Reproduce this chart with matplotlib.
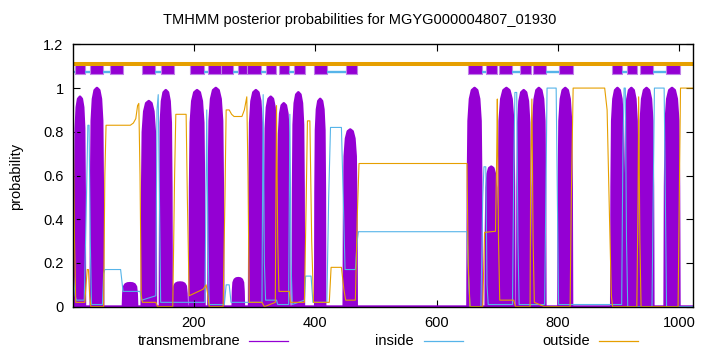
import numpy as np
import matplotlib.pyplot as plt
from matplotlib.lines import Line2D

plt.rcParams['font.family'] = ['Liberation Sans', 'DejaVu Sans']
plt.rcParams['font.size'] = 10.5

### Data ###
seq_len = 1022

# posterior transmembrane peaks: first residue, last residue, max probability
tm_start = [4, 30, 83, 114, 144, 166, 193, 224, 264, 291, 317, 339, 363, 400, 447,
            651, 681, 702, 733, 758, 801, 888, 911, 935, 976]
tm_end = [20, 50, 106, 137, 163, 188, 217, 248, 282, 313, 336, 357, 381, 416, 468,
          674, 699, 728, 754, 779, 823, 908, 931, 957, 1000]
tm_peak = [0.96, 1.0, 0.107, 0.94, 0.99, 0.11, 0.99, 1.0, 0.13, 0.99, 0.96, 0.93, 0.98, 0.95, 0.81,
           1.0, 0.64, 1.0, 0.99, 1.0, 1.0, 1.0, 1.0, 1.0, 1.0]

# posterior probability of "inside"
inside_x = [1, 4, 6, 19, 22, 25, 27, 29, 31, 49, 51, 53, 79, 81, 83, 111, 114, 137, 139, 141, 143, 145,
            218, 220, 221, 223, 225, 250, 253, 258, 261, 312, 314, 316, 318, 336, 338, 356, 358, 360, 362,
            382, 384, 393, 396, 419, 422, 425, 443, 446, 449, 466, 469, 471, 650, 653, 655, 673, 676, 678,
            681, 683, 685, 725, 727, 729, 732, 734, 736, 778, 780, 782, 797, 799, 801, 905, 907, 909, 911,
            913, 915, 955, 957, 959, 975, 977, 979, 1022]
inside_y = [0.15, 0.05, 0.03, 0.03, 0.4, 0.83, 0.83, 0.3, 0.01, 0.01, 0.15, 0.17, 0.17, 0.12, 0.07, 0.07,
            0.03, 0.05, 0.9, 0.97, 0.5, 0.02, 0.02, 0.6, 0.9, 0.3, 0.01, 0.01, 0.1, 0.1, 0.02, 0.02, 0.97,
            0.2, 0.03, 0.03, 0.01, 0.01, 0.88, 0.2, 0.01, 0.03, 0.14, 0.14, 0.02, 0.02, 0.5, 0.82, 0.82,
            0.5, 0.17, 0.17, 0.3, 0.343, 0.343, 0.1, 0.0, 0.0, 0.5, 0.64, 0.64, 0.1, 0.01, 0.01, 0.6,
            0.98, 0.98, 0.3, 0.01, 0.01, 0.5, 1.0, 1.0, 0.5, 0.01, 0.01, 0.7, 1.0, 1.0, 0.3, 0.0, 0.0,
            0.5, 1.0, 1.0, 0.5, 0.0, 0.0]

# posterior probability of "outside"
outside_x = [1, 3, 5, 20, 22, 24, 26, 28, 30, 51, 53, 55, 95, 100, 104, 107, 109, 111, 113, 115, 137, 140,
             165, 168, 170, 187, 189, 192, 215, 220, 223, 225, 248, 251, 253, 258, 262, 266, 279, 283, 287,
             289, 291, 312, 316, 334, 336, 338, 340, 357, 359, 382, 385, 387, 391, 394, 397, 423, 426, 443,
             447, 450, 466, 469, 472, 650, 652, 655, 676, 679, 697, 699, 700, 702, 704, 727, 730, 754, 755,
             757, 759, 761, 778, 820, 822, 825, 877, 881, 885, 888, 890, 930, 932, 933, 935, 937, 998, 1000,
             1002, 1022]
outside_y = [0.8, 0.3, 0.02, 0.02, 0.1, 0.17, 0.17, 0.05, 0.0, 0.0, 0.6, 0.83, 0.83, 0.84, 0.86, 0.92,
             0.93, 0.6, 0.05, 0.02, 0.02, 0.0, 0.0, 0.6, 0.88, 0.88, 0.5, 0.05, 0.08, 0.1, 0.05, 0.0, 0.0,
             0.5, 0.9, 0.9, 0.88, 0.87, 0.87, 0.9, 0.96, 0.6, 0.02, 0.02, 0.0, 0.02, 0.92, 0.3, 0.07, 0.07,
             0.02, 0.02, 0.5, 0.85, 0.85, 0.3, 0.02, 0.02, 0.18, 0.18, 0.08, 0.03, 0.03, 0.4, 0.655, 0.655,
             0.2, 0.0, 0.0, 0.34, 0.345, 0.7, 0.95, 0.3, 0.03, 0.03, 0.0, 0.0, 0.6, 0.95, 0.3, 0.02, 0.0,
             0.0, 0.5, 1.0, 1.0, 0.9, 0.4, 0.05, 0.0, 0.0, 0.5, 0.96, 0.3, 0.0, 0.0, 0.5, 1.0, 1.0]

# predicted topology (top bar)
pred_tm = [(4, 21), (28, 50), (61, 83), (114, 136), (145, 167), (194, 216), (223, 245), (245, 265),
           (272, 288), (288, 310), (318, 335), (340, 357), (365, 383), (398, 419), (450, 469),
           (652, 674), (681, 699), (703, 725), (737, 755), (759, 780), (802, 824), (889, 906),
           (913, 931), (935, 957), (978, 1001)]
pred_inside = [(1, 4), (21, 28), (50, 61), (136, 145), (216, 223), (265, 272), (310, 318), (357, 365),
               (419, 450), (674, 681), (725, 737), (780, 802), (906, 913), (957, 978)]

### Colours ###
c_tm = "#9400d3"
c_in = "#56b4e9"
c_out = "#e69f00"

### Build the TM curve (dome shaped peaks, steep sides) ###
shape_x = [0, 0.03, 0.08, 0.18, 0.32, 0.5, 0.68, 0.82, 0.92, 0.97, 1]
shape_y = [0, 0.55, 0.85, 0.95, 0.99, 1, 0.99, 0.95, 0.85, 0.55, 0]
tm_x = [1]
tm_y = [0]
for s, e, h in zip(tm_start, tm_end, tm_peak):
    for fx, fy in zip(shape_x, shape_y):
        tm_x.append(s + fx * (e - s))
        tm_y.append(fy * h)
tm_x.append(seq_len)
tm_y.append(0)

### Plotting ###
fig = plt.figure(figsize=(7.2, 3.52), dpi=100)
ax = fig.add_axes([0.1018, 0.1287, 0.8602, 0.7453])

ax.fill_between(tm_x, 0, tm_y, color=c_tm, lw=0)
ax.plot(tm_x, tm_y, color=c_tm, lw=2.0)
ax.plot(inside_x, inside_y, color=c_in, lw=0.8)
ax.plot(outside_x, outside_y, color=c_out, lw=0.8)

# topology bar
ax.plot([1, seq_len], [1.108, 1.108], color=c_out, lw=2.9, solid_capstyle='butt')
for s, e in pred_inside:
    ax.plot([s, e], [1.072, 1.072], color=c_in, lw=1.7, solid_capstyle='butt')
ax.broken_barh([(s, e - s) for s, e in pred_tm], (1.064, 0.049),
               facecolor=c_tm, edgecolor="#c080e8", lw=0.8)

ax.set_xlim(1, seq_len)
ax.set_ylim(0, 1.2)
ax.set_xticks([200, 400, 600, 800, 1000])
ax.set_yticks([0, 0.2, 0.4, 0.6, 0.8, 1.0, 1.2])
ax.set_yticklabels(["0", "0.2", "0.4", "0.6", "0.8", "1", "1.2"])
ax.tick_params(direction='in', top=True, right=True, length=5, width=0.8, pad=7)
for sp in ax.spines.values():
    sp.set_linewidth(1.0)

fig.text(0.5, 0.943, "TMHMM posterior probabilities for MGYG000004807_01930",
         ha='center', va='center')
fig.text(0.022, 0.5, "probability", rotation=90, ha='center', va='center')

# key below the plot
ly = 0.031
for label, col, tx, x0, x1 in [("transmembrane", c_tm, 0.3333, 0.3458, 0.4),
                               ("inside", c_in, 0.575, 0.589, 0.643),
                               ("outside", c_out, 0.8194, 0.832, 0.886)]:
    fig.text(tx, ly, label, ha='right', va='center')
    fig.add_artist(Line2D([x0, x1], [ly, ly], color=col, lw=0.9, transform=fig.transFigure))

plt.savefig("out.png", dpi=100)
